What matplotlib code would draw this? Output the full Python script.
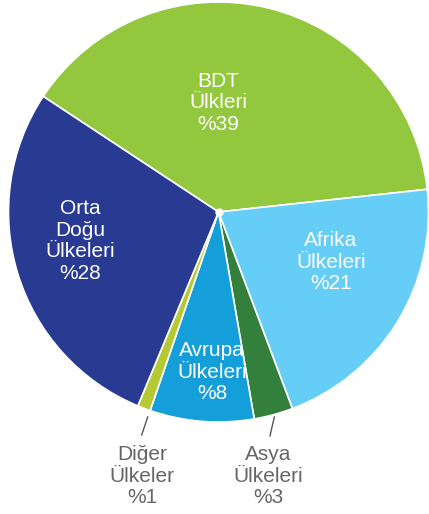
import matplotlib.pyplot as plt

# slice data, clockwise from the top-left boundary
labels = ['BDT\nÜlkleri\n%39', 'Afrika\nÜlkeleri\n%21', 'Asya\nÜlkeleri\n%3',
          'Avrupa\nÜlkeleri\n%8', 'Diğer\nÜlkeler\n%1', 'Orta\nDoğu\nÜlkeleri\n%28']
values = [39, 21, 3, 8, 1, 28]
colors = ['#93c83e', '#66cdf6', '#33803c', '#149fdb', '#b5c935', '#283a91']

plt.rcParams['font.family'] = ['Liberation Sans Narrow', 'Liberation Sans', 'DejaVu Sans']

fig = plt.figure(figsize=(4.29, 5.14), dpi=100)
ax = fig.add_axes([0, 0, 1, 1])

# work in pixel units: centre (218, 212 from top), radius 210
cx, cy, r = 218.5, 514 - 212, 210
ax.pie(values, colors=colors, startangle=146.6, counterclock=False,
       center=(cx, cy), radius=r,
       wedgeprops=dict(edgecolor='white', linewidth=1.2))
ax.plot(cx, cy, 'o', color='white', markersize=5)

# labels inside slices
inside = {0: (218, 514 - 103), 1: (331, 514 - 262), 3: (212, 514 - 372), 5: (80, 514 - 241)}
for i, (x, y) in inside.items():
    ax.text(x, y, labels[i], ha='center', va='center', color='white',
            fontsize=15, linespacing=1.17)

# labels outside with leader lines
ax.plot([147.7, 141.7], [514 - 417, 514 - 435], color='#555555', lw=1)
ax.plot([274.3, 270], [514 - 417, 514 - 436], color='#555555', lw=1)
ax.text(142, 514 - 476, labels[4], ha='center', va='center', color='#666666',
        fontsize=15, linespacing=1.17)
ax.text(268, 514 - 476, labels[2], ha='center', va='center', color='#666666',
        fontsize=15, linespacing=1.17)

ax.set_xlim(0, 429)
ax.set_ylim(0, 514)
ax.set_aspect('equal')
ax.axis('off')

fig.savefig('out.png', dpi=100)
